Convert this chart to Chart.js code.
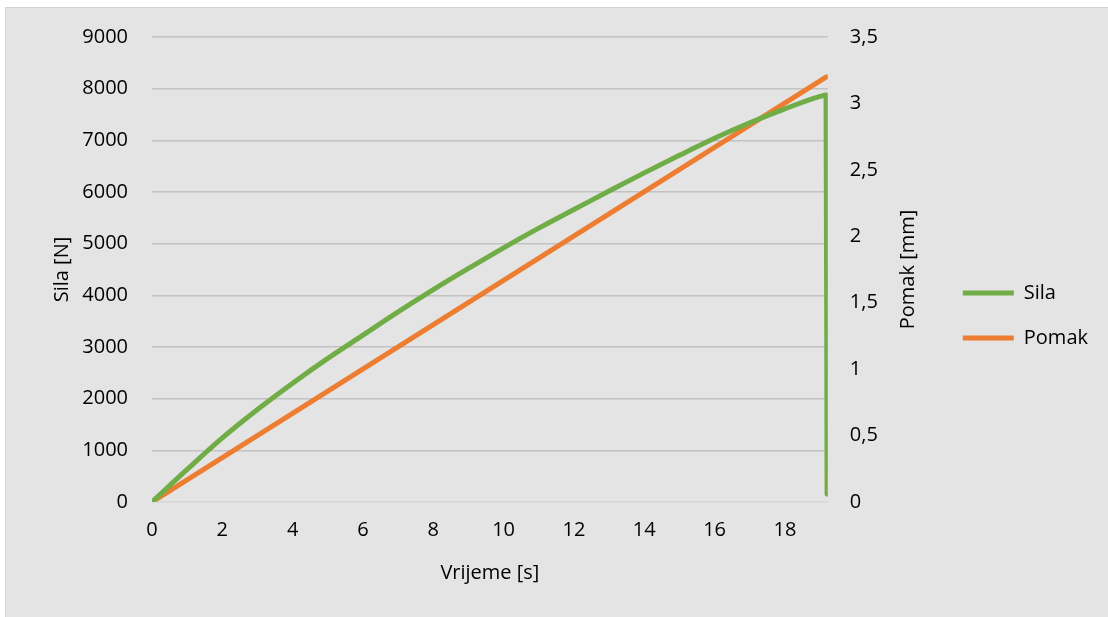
<!DOCTYPE html>
<html>
<head>
<meta charset="utf-8">
<script src="https://cdn.jsdelivr.net/npm/chart.js@4/dist/chart.umd.min.js"></script>
<style>
  html, body { margin: 0; padding: 0; background: #ffffff; }
  #wrap { position: absolute; left: 5px; top: 7px; width: 1102px; height: 609px;
          border-left: 1px solid #d4d4d4; border-top: 1px solid #d4d4d4; background: #e4e4e4; }
  canvas { display: block; }
</style>
</head>
<body>
<div id="wrap"><canvas id="c" width="1102" height="609"></canvas></div>
<script>
// Time [s]
const timeS = [0, 1, 2, 3, 4, 5, 6, 7, 8, 9, 10, 11, 12, 13, 14, 15, 16, 17, 18, 19, 19.17, 19.2];
// Sila [N]
const silaN = [0, 630, 1240, 1790, 2300, 2780, 3230, 3680, 4110, 4520, 4920, 5300, 5660, 6020, 6370, 6710, 7040, 7340, 7610, 7850, 7877, 150];
// Pomak [mm]
const pomakT = [0, 19.18];
const pomakMm = [0, 3.2];

const seriesNames = ['Sila', 'Pomak'];
const axisTitles = { x: 'Vrijeme [s]', y: 'Sila [N]', y2: 'Pomak [mm]' };

Chart.defaults.font.family = "'Open Sans', sans-serif";
Chart.defaults.font.size = 20;
Chart.defaults.color = '#000000';

const silaData = timeS.map((t, i) => ({ x: t, y: silaN[i] }));
const pomakData = pomakT.map((t, i) => ({ x: t, y: pomakMm[i] }));

// Right axis title drawn bottom-to-top (as in the reference)
const rightTitle = {
  id: 'rightTitle',
  afterDraw(chart) {
    const ctx = chart.ctx;
    const a = chart.chartArea;
    ctx.save();
    ctx.translate(a.right + 80, (a.top + a.bottom) / 2);
    ctx.rotate(-Math.PI / 2);
    ctx.font = "20px 'Open Sans', sans-serif";
    ctx.fillStyle = '#000000';
    ctx.textAlign = 'center';
    ctx.textBaseline = 'middle';
    ctx.fillText(axisTitles.y2, 0, 0);
    ctx.restore();
  }
};

new Chart(document.getElementById('c'), {
  type: 'line',
  data: {
    datasets: [
      { label: seriesNames[0], data: silaData, yAxisID: 'y', borderColor: '#70ad47', backgroundColor: '#70ad47',
        borderWidth: 5, pointRadius: 0, borderCapStyle: 'round', borderJoinStyle: 'round', cubicInterpolationMode: 'monotone' },
      { label: seriesNames[1], data: pomakData, yAxisID: 'y2', borderColor: '#ed7d31', backgroundColor: '#ed7d31',
        borderWidth: 5, pointRadius: 0, tension: 0, borderCapStyle: 'round', borderJoinStyle: 'round' }
    ]
  },
  plugins: [rightTitle],
  options: {
    responsive: false,
    animation: false,
    layout: { padding: { left: 20, right: 10, top: 29, bottom: 23 } },
    plugins: {
      tooltip: { enabled: false },
      legend: {
        position: 'right',
        labels: { usePointStyle: true, pointStyle: 'line', pointStyleWidth: 51, padding: 25,
                  font: { size: 20 }, color: '#000000' }
      }
    },
    scales: {
      x: {
        type: 'linear', min: 0, max: 19.22,
        grid: { display: false, drawTicks: false },
        border: { display: false },
        ticks: { stepSize: 2, includeBounds: false, padding: 16,
                 callback: (v) => (Math.abs(v % 2) < 1e-9 ? String(v) : '') },
        title: { display: true, text: axisTitles.x, padding: { top: 8, bottom: 9 } },
        afterFit: (s) => { s.height = 92; }
      },
      y: {
        type: 'linear', position: 'left', min: 0, max: 9000,
        grid: { drawTicks: false, lineWidth: 1.5,
                color: (ctx) => (ctx.index === 0 ? '#d6d6d6' : '#c2c2c2') },
        border: { display: false },
        ticks: { stepSize: 1000, padding: 24, callback: (v) => String(v) },
        title: { display: true, text: axisTitles.y, padding: { top: 24, bottom: 0 } },
        afterFit: (s) => { s.width = 126; s.paddingTop = 0; s.paddingBottom = 0; }
      },
      y2: {
        type: 'linear', position: 'right', min: 0, max: 3.5,
        grid: { display: false, drawTicks: false },
        border: { display: false },
        ticks: { stepSize: 0.5, padding: 22, callback: (v) => String(v).replace('.', ',') },
        title: { display: false, text: axisTitles.y2 },
        afterFit: (s) => { s.width = 110; s.paddingTop = 0; s.paddingBottom = 0; }
      }
    }
  }
});
</script>
</body>
</html>
